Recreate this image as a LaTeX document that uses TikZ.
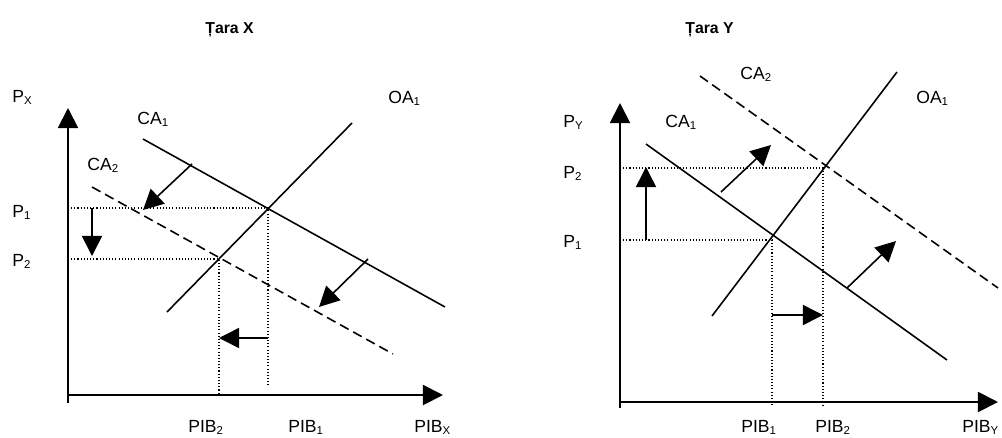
\documentclass[tikz,border=0pt]{standalone}
\usepackage{fontspec}
\setmainfont{Liberation Sans}
\usetikzlibrary{arrows.meta}
\newcommand{\lowidx}[1]{\raisebox{-0.3ex}{\fontsize{6.5}{7}\selectfont #1}}

\begin{document}
\begin{tikzpicture}[x=0.02cm, y=-0.02cm,
  axis/.style={line width=1.1pt, -{Triangle[length=11.5pt, width=11.5pt]}},
  curve/.style={line width=0.9pt},
  shifted/.style={curve, dash pattern=on 5.5pt off 3pt},
  guide/.style={line width=0.6pt, dash pattern=on 0.6pt off 1.2pt},
  move/.style={line width=0.9pt, -{Triangle[length=11.5pt, width=11.5pt]}},
  lbl/.style={font=\fontsize{10}{12}\selectfont, anchor=base west, inner sep=0pt},
  heading/.style={font=\fontsize{9}{11}\selectfont\bfseries, anchor=base west, inner sep=0pt}]
  \useasboundingbox (0,0) rectangle (1002,437);

  % Tara X: demand falls
  \node[heading] (xtitle) at (205,33) {Țara X};
  \coordinate (xbot) at (68,403);
  \coordinate (xtop) at (68,108);
  \coordinate (xo) at (68,395);
  \coordinate (xend) at (443,395);
  \draw[axis] (xbot) -- (xtop);
  \draw[axis] (xo) -- (xend);
  \coordinate (xca1a) at (143,139);
  \coordinate (xca1b) at (445,307);
  \coordinate (xoa1a) at (167,312);
  \coordinate (xoa1b) at (352,123);
  \coordinate (xca2a) at (92,187);
  \coordinate (xca2b) at (393,354);
  \draw[curve] (xca1a) -- (xca1b);
  \draw[curve] (xoa1a) -- (xoa1b);
  \draw[shifted] (xca2a) -- (xca2b);
  \coordinate (xe1) at (268,208);
  \coordinate (xe2) at (219,259);
  \coordinate (xp1) at (68,208);
  \coordinate (xp2) at (68,259);
  \coordinate (xq1) at (268,385);
  \coordinate (xq2) at (219,395);
  \draw[guide] (xp1) -- (xe1) -- (xq1);
  \draw[guide] (xp2) -- (xe2) -- (xq2);
  \coordinate (xdowna) at (92,208);
  \coordinate (xdownb) at (92,256);
  \draw[move] (xdowna) -- (xdownb);
  \coordinate (xlefta) at (268,338);
  \coordinate (xleftb) at (219,338);
  \draw[move] (xlefta) -- (xleftb);
  \coordinate (xsa) at (192,164);
  \coordinate (xsb) at (143,210);
  \draw[move] (xsa) -- (xsb);
  \coordinate (xta) at (368,259);
  \coordinate (xtb) at (319,307);
  \draw[move] (xta) -- (xtb);
  \node[lbl] (xpx) at (12,102) {P\lowidx{X}};
  \node[lbl] (xlca1) at (137,124) {CA\lowidx{1}};
  \node[lbl] (xloa1) at (388,103) {OA\lowidx{1}};
  \node[lbl] (xlca2) at (87,170) {CA\lowidx{2}};
  \node[lbl] (xlp1) at (12,217) {P\lowidx{1}};
  \node[lbl] (xlp2) at (12,266) {P\lowidx{2}};
  \node[lbl] (xpib2) at (188,432) {PIB\lowidx{2}};
  \node[lbl] (xpib1) at (288,432) {PIB\lowidx{1}};
  \node[lbl] (xpibx) at (414,432) {PIB\lowidx{X}};

  % Tara Y: demand rises
  \node[heading] (ytitle) at (685,33) {Țara Y};
  \coordinate (ybot) at (620,408);
  \coordinate (ytop) at (620,103);
  \coordinate (yo) at (620,402);
  \coordinate (yend) at (998,402);
  \draw[axis] (ybot) -- (ytop);
  \draw[axis] (yo) -- (yend);
  \coordinate (yca1a) at (646,144);
  \coordinate (yca1b) at (947,360);
  \coordinate (yoa1a) at (712,316);
  \coordinate (yoa1b) at (897,72);
  \coordinate (yca2a) at (700,76);
  \coordinate (yca2b) at (998,288);
  \draw[curve] (yca1a) -- (yca1b);
  \draw[curve] (yoa1a) -- (yoa1b);
  \draw[shifted] (yca2a) -- (yca2b);
  \coordinate (ye1) at (772,240);
  \coordinate (ye2) at (823,168);
  \coordinate (yp1) at (620,240);
  \coordinate (yp2) at (620,168);
  \coordinate (yq1) at (772,407);
  \coordinate (yq2) at (823,407);
  \draw[guide] (yp1) -- (ye1) -- (yq1);
  \draw[guide] (yp2) -- (ye2) -- (yq2);
  \coordinate (yupa) at (646,240);
  \coordinate (yupb) at (646,167);
  \draw[move] (yupa) -- (yupb);
  \coordinate (yrighta) at (772,315);
  \coordinate (yrightb) at (823,315);
  \draw[move] (yrighta) -- (yrightb);
  \coordinate (ysa) at (721,192);
  \coordinate (ysb) at (771,145);
  \draw[move] (ysa) -- (ysb);
  \coordinate (yta) at (847,288);
  \coordinate (ytb) at (896,241);
  \draw[move] (yta) -- (ytb);
  \node[lbl] (ypy) at (563,127) {P\lowidx{Y}};
  \node[lbl] (ylca1) at (665,127) {CA\lowidx{1}};
  \node[lbl] (ylca2) at (740,79) {CA\lowidx{2}};
  \node[lbl] (yloa1) at (916,103) {OA\lowidx{1}};
  \node[lbl] (ylp2) at (563,178) {P\lowidx{2}};
  \node[lbl] (ylp1) at (563,247) {P\lowidx{1}};
  \node[lbl] (ypib1) at (741,432) {PIB\lowidx{1}};
  \node[lbl] (ypib2) at (815,432) {PIB\lowidx{2}};
  \node[lbl] (ypiby) at (962,432) {PIB\lowidx{Y}};
\end{tikzpicture}
\end{document}
